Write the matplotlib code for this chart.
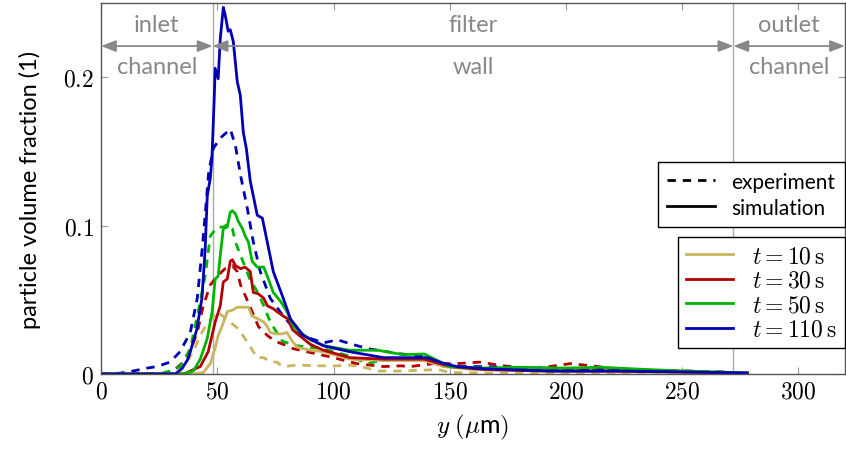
import numpy as np
import matplotlib
matplotlib.use("Agg")
import matplotlib.pyplot as plt
from matplotlib.lines import Line2D
from matplotlib.ticker import FuncFormatter, MultipleLocator

plt.rcParams["font.family"] = ["Lato", "DejaVu Sans"]
plt.rcParams["mathtext.fontset"] = "cm"

# region boundaries (um)
inlet_end = 48.0
outlet_start = 272.0
x_max = 320.0

# t = 10 s
y10_x_exp = [0, 28, 34, 39.7, 42.7, 45.6, 50, 54, 58.6, 61, 64, 67, 70, 73, 75.7, 78, 84.5, 93, 102,
             107, 112, 119, 129, 137, 145, 150, 170, 200, 240, 270]
y10_exp = [0, 0, 0.002, 0.015, 0.026, 0.034, 0.042, 0.037, 0.031, 0.026, 0.019, 0.011, 0.011, 0.008,
           0.008, 0.005, 0.006, 0.0055, 0.0055, 0.006, 0.005, 0.002, 0.002, 0.0025, 0.003, 0.001,
           0.0005, 0.0003, 0.0002, 0.0001]
y10_x_sim = [0, 40, 44, 47, 49, 50.4, 52, 54.3, 56.5, 58.6, 61.2, 63.4, 65, 67.7, 70, 71.5, 72.8, 75,
             78, 80, 82.3, 84.5, 90, 95.7, 107, 121.6, 139, 147.4, 160, 190, 220, 250, 278]
y10_sim = [0, 0, 0.001, 0.007, 0.017, 0.026, 0.032, 0.042, 0.043, 0.045, 0.045, 0.045, 0.039, 0.037,
           0.035, 0.032, 0.028, 0.027, 0.027, 0.028, 0.022, 0.018, 0.016, 0.015, 0.010, 0.009, 0.009,
           0.005, 0.003, 0.002, 0.0015, 0.001, 0.0005]

# t = 30 s
y30_x_exp = [0, 27, 31, 37, 41.4, 44, 47, 50, 53.4, 56.5, 58.6, 60, 62, 65, 67.7, 71.5, 75, 80, 82.8,
             100, 110, 121.6, 129, 133, 143, 153, 163, 173, 186, 202, 211, 222, 236.6, 251, 268]
y30_exp = [0, 0, 0.002, 0.010, 0.028, 0.046, 0.060, 0.066, 0.071, 0.073, 0.069, 0.060, 0.053, 0.042,
           0.032, 0.026, 0.022, 0.019, 0.017, 0.011, 0.007, 0.005, 0.0055, 0.005, 0.007, 0.007, 0.008,
           0.0055, 0.0035, 0.007, 0.0055, 0.0035, 0.002, 0.002, 0.0014]
y30_x_sim = [0, 36, 38.4, 42.7, 46.1, 49.1, 51.3, 52.6, 54.3, 55.6, 56.5, 57.8, 60, 62, 64.2, 65.5,
             67.7, 70, 71.5, 74.1, 75.7, 78.4, 80.5, 82.3, 84.5, 90, 95.7, 107, 121.6, 139, 150, 165,
             190, 220, 250, 278]
y30_sim = [0, 0, 0.002, 0.005, 0.015, 0.035, 0.046, 0.062, 0.064, 0.076, 0.077, 0.073, 0.071, 0.072,
           0.069, 0.055, 0.054, 0.051, 0.046, 0.044, 0.042, 0.039, 0.037, 0.030, 0.027, 0.020, 0.016,
           0.011, 0.010, 0.010, 0.005, 0.003, 0.002, 0.002, 0.0013, 0.0005]

# t = 50 s
y50_x_exp = [0, 25, 29.7, 34, 38.4, 41.8, 44.8, 47, 50, 52.6, 54.7, 56.5, 57.8, 60, 62, 64, 67, 70, 72,
             74, 78, 84.5, 95.7, 107, 114.7, 120, 133, 139, 147.4, 160, 193.5, 215, 251, 270]
y50_exp = [0, 0, 0.002, 0.005, 0.017, 0.042, 0.066, 0.093, 0.099, 0.099, 0.101, 0.098, 0.089, 0.080,
           0.072, 0.064, 0.056, 0.046, 0.038, 0.032, 0.022, 0.019, 0.017, 0.012, 0.007, 0.009, 0.009,
           0.0135, 0.005, 0.004, 0.003, 0.003, 0.002, 0.001]
y50_x_sim = [0, 35, 39.7, 42.7, 45.7, 47.8, 49.1, 50.4, 51.3, 52.6, 54.3, 55.6, 56.5, 57.8, 59, 60.8,
             62, 63.4, 65, 67.2, 70, 71.5, 74.1, 77.2, 80, 82.8, 85.8, 90, 96, 107, 119, 130, 139, 150,
             165, 179, 200, 215, 235, 251, 278]
y50_sim = [0, 0, 0.002, 0.010, 0.024, 0.042, 0.064, 0.066, 0.080, 0.098, 0.099, 0.109, 0.110, 0.108,
           0.103, 0.098, 0.093, 0.089, 0.076, 0.072, 0.072, 0.066, 0.055, 0.049, 0.042, 0.032, 0.028,
           0.023, 0.019, 0.016, 0.016, 0.013, 0.0135, 0.005, 0.004, 0.0045, 0.004, 0.0045, 0.003,
           0.002, 0.0007]

# t = 110 s
y110_x_exp = [0, 8, 13.8, 20, 24, 29.7, 34, 38.4, 41.4, 43.5, 45, 46.3, 48.3, 51.3, 55.6, 57.8, 60, 63,
              65.5, 68.5, 72.8, 78.4, 84.5, 90, 95.7, 101.7, 108, 115, 123, 129, 139, 147.4, 155, 162,
              179, 208, 229, 251, 270]
y110_exp = [0, 0.0005, 0.002, 0.004, 0.005, 0.008, 0.015, 0.028, 0.051, 0.084, 0.111, 0.136, 0.152,
            0.159, 0.165, 0.154, 0.134, 0.111, 0.089, 0.069, 0.051, 0.039, 0.028, 0.024, 0.021, 0.023,
            0.020, 0.017, 0.015, 0.0135, 0.012, 0.007, 0.005, 0.005, 0.0045, 0.003, 0.003, 0.0014,
            0.0005]
y110_x_sim = [0, 32, 35, 37.4, 38.4, 41.2, 43.4, 44.8, 45.7, 47, 47.7, 48.7, 49.1, 50.4, 51.3, 52.6,
              53.4, 54.7, 55.6, 56.9, 58.6, 59.9, 61.2, 62.5, 64.2, 67.2, 69.4, 71.5, 74.1, 78.4, 81.5,
              87, 95.7, 107, 121.6, 136, 140.5, 147.5, 153, 165, 193.5, 222, 251, 265, 278]
y110_sim = [0, 0, 0.004, 0.010, 0.015, 0.030, 0.051, 0.084, 0.120, 0.132, 0.145, 0.186, 0.206, 0.199,
            0.226, 0.247, 0.242, 0.231, 0.232, 0.224, 0.197, 0.188, 0.163, 0.152, 0.130, 0.107, 0.105,
            0.089, 0.069, 0.051, 0.037, 0.026, 0.019, 0.015, 0.011, 0.011, 0.011, 0.007, 0.005, 0.0035,
            0.002, 0.002, 0.0014, 0.001, 0.0007]

times = ["10", "30", "50", "110"]
colors = ["#c8b55e", "#b40000", "#00b400", "#0000b4"]
exp_curves = [(y10_x_exp, y10_exp), (y30_x_exp, y30_exp), (y50_x_exp, y50_exp), (y110_x_exp, y110_exp)]
sim_curves = [(y10_x_sim, y10_sim), (y30_x_sim, y30_sim), (y50_x_sim, y50_sim), (y110_x_sim, y110_sim)]

fig = plt.figure(figsize=(8.46, 4.52), dpi=100)
ax = fig.add_axes([0.1194, 0.1704, 0.8794, 0.8207])

lw = 2.0
for (xs, ys), c in zip(exp_curves, colors):
    ax.plot(xs, ys, color=c, lw=lw, ls=(0, (3, 2.5)))
for (xs, ys), c in zip(sim_curves, colors):
    ax.plot(xs, ys, color=c, lw=lw)

# region separators and labels
ax.axvline(inlet_end, color="#aaaaaa", lw=1.0, zorder=0)
ax.axvline(outlet_start, color="#aaaaaa", lw=1.0, zorder=0)
arrow_y = 0.221
grey = "#888888"
for x0, x1, top, bottom in [(0, inlet_end, "inlet", "channel"),
                            (inlet_end, outlet_start, "filter", "wall"),
                            (outlet_start, x_max, "outlet", "channel")]:
    ax.annotate("", xy=(x0, arrow_y), xytext=(x1, arrow_y),
                arrowprops=dict(arrowstyle="<|-|>,head_length=0.9,head_width=0.35",
                                color=grey, lw=1.3, shrinkA=0, shrinkB=0))
    xm = 0.5 * (x0 + x1)
    ax.text(xm, arrow_y + 0.0075, top, ha="center", va="bottom", color=grey, fontsize=17)
    ax.text(xm, arrow_y - 0.0065, bottom, ha="center", va="top", color=grey, fontsize=17)

ax.set_xlim(0, x_max)
ax.set_ylim(0, 0.25)
ax.xaxis.set_major_locator(MultipleLocator(50))
ax.yaxis.set_major_locator(MultipleLocator(0.1))
fmt = FuncFormatter(lambda v, pos: r"$%g$" % round(v, 3))
ax.xaxis.set_major_formatter(fmt)
ax.yaxis.set_major_formatter(fmt)
ax.tick_params(direction="in", top=True, right=True, length=5, width=0.8,
               color="#999999", labelsize=17, pad=5)
for s in ax.spines.values():
    s.set_color("#555555")
    s.set_linewidth(1.0)

ax.set_xlabel(r"$y$ $(\mu$m$)$", fontsize=18, labelpad=7)
ax.set_ylabel("particle volume fraction (1)", fontsize=17, labelpad=16)

style_handles = [Line2D([], [], color="black", lw=lw, ls=(0, (3, 2.5))),
                 Line2D([], [], color="black", lw=lw)]
leg1 = ax.legend(style_handles, ["experiment", "simulation"], loc="upper right",
                 bbox_to_anchor=(1.0, 0.571), borderaxespad=0, fontsize=15, fancybox=False,
                 framealpha=1, edgecolor="black", handlelength=2.3, borderpad=0.45,
                 labelspacing=0.3, handletextpad=0.8)
leg1.get_frame().set_linewidth(1.0)
ax.add_artist(leg1)

time_handles = [Line2D([], [], color=c, lw=lw) for c in colors]
leg2 = ax.legend(time_handles, [r"$t = %s\,\mathrm{s}$" % t for t in times], loc="upper right",
                 bbox_to_anchor=(1.0, 0.369), borderaxespad=0, fontsize=17, fancybox=False,
                 framealpha=1, edgecolor="black", handlelength=2.0, borderpad=0.35,
                 labelspacing=0.15, handletextpad=0.8)
leg2.get_frame().set_linewidth(1.0)

fig.savefig("out.png", dpi=100)
